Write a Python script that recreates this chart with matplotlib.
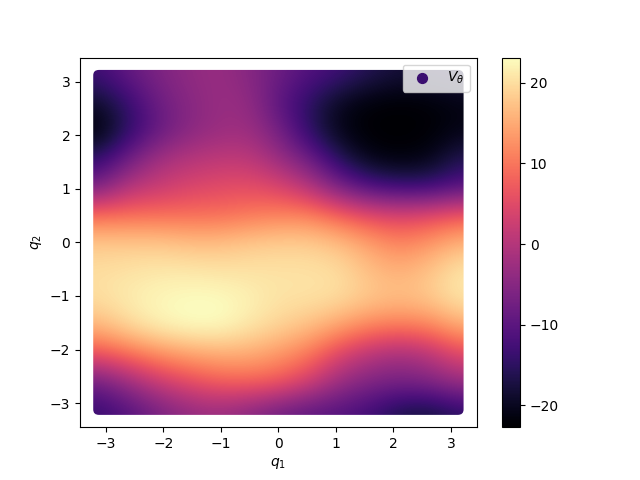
#Mapa de V_theta sobre (q1, q2)
import numpy as np
import matplotlib
matplotlib.use("Agg")
import matplotlib.pyplot as plt
from matplotlib.patches import FancyBboxPatch

# filas de q2 = 3.14 hasta q2 = -3.14, columnas de q1 = -3.14 hasta 3.14
row_p314 = [-13, -9, -6, -4, -3, -5, -8, -11, -13, -16, -18, -18, -17]
row_p262 = [-19, -14, -8, -5, -3, -3.5, -10, -15, -20, -22, -22.5, -22, -21]
row_p209 = [-22.7, -15, -9, -5, -3, -2.5, -7, -15, -21, -22.7, -22.7, -22.5, -21]
row_p157 = [-15, -8, -2, 0, 1, 1, -3, -8, -16, -21, -22, -21, -16]
row_p105 = [-7, 0, 2, 4, 5, 5.5, 4, 0, -7, -12, -14, -14, -11]
row_p052 = [9, 9, 9, 9, 9, 10, 11, 11, 8, 5, 4, 5, 7]
row_0 = [18, 18, 18, 17, 17, 18, 18.5, 18.5, 17, 14, 11, 13, 16]
row_m052 = [20, 20.5, 21, 21, 20.5, 20.5, 20.5, 20.5, 20, 17, 15.5, 17.5, 21]
row_m105 = [20, 21.5, 22.5, 23.1, 23.1, 22, 20.5, 20.5, 20, 18, 17, 18, 21]
row_m157 = [16, 19.5, 22, 23.1, 23.1, 21, 19, 17, 14, 11, 10, 11, 15]
row_m209 = [6, 9, 12, 14, 15, 15, 13, 10, 4, 0, -2, 0, 5]
row_m262 = [-8, -3, 2, 5, 7.5, 8, 7, 3, -3, -6, -7, -6, -3]
row_m314 = [-14, -11, -7, -4, -3, -5, -8, -10, -11, -13, -17, -18, -15]

V = np.array([row_p314, row_p262, row_p209, row_p157, row_p105, row_p052, row_0,
              row_m052, row_m105, row_m157, row_m209, row_m262, row_m314])

fig, ax = plt.subplots(figsize=(6.4, 4.8), dpi=100)

lim = 3.14 + 3.14 / 12
im = ax.imshow(V, cmap="magma", vmin=-22.7, vmax=23.1, interpolation="bicubic",
               extent=(-lim, lim, -lim, lim), aspect="auto")

# esquinas redondeadas como los puntos del scatter original
borde = FancyBboxPatch((-3.12, -3.12), 6.24, 6.24, boxstyle="round,pad=0.1,rounding_size=0.1",
                       transform=ax.transData, facecolor="none", edgecolor="none")
ax.add_patch(borde)
im.set_clip_path(borde)

ax.scatter([], [], color="#3b0f70", s=50, label=r"$V_\theta$")
ax.set_xlim(-3.45, 3.45)
ax.set_ylim(-3.45, 3.45)
ax.set_xlabel(r"$q_1$")
ax.set_ylabel(r"$q_2$")
ax.legend(loc="upper right")
fig.colorbar(im, ax=ax)

fig.savefig("out.png", dpi=100)
